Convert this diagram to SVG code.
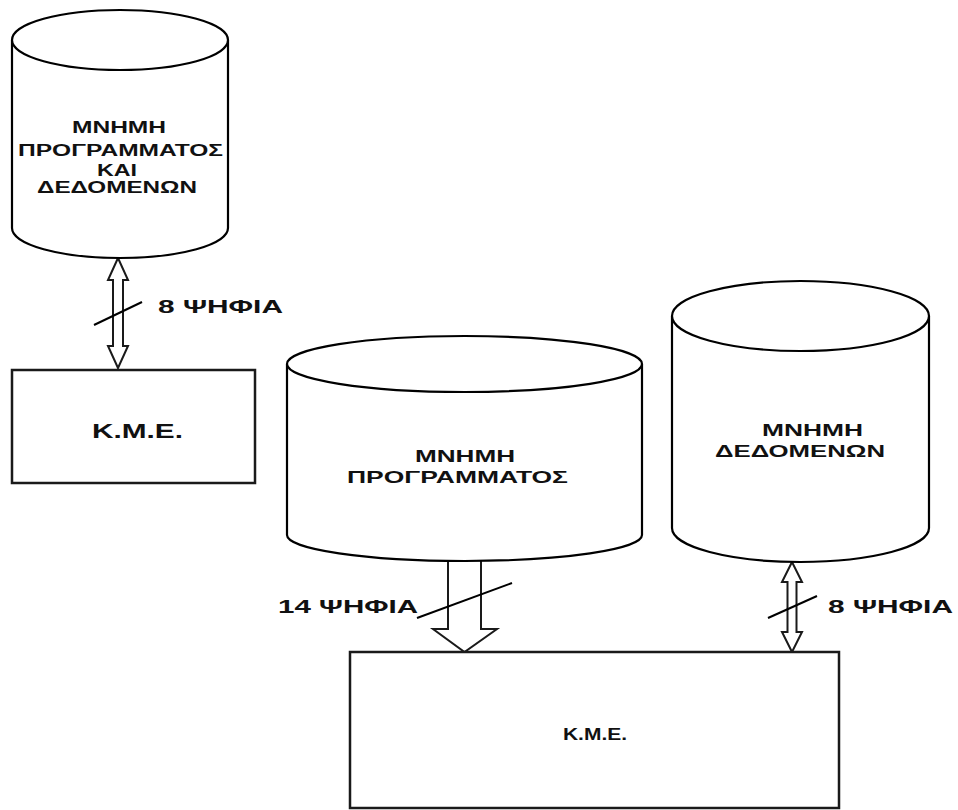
<svg xmlns="http://www.w3.org/2000/svg" width="958" height="810" viewBox="0 0 958 810">
<style>
  .shape { fill: #ffffff; stroke: #000000; stroke-width: 2.2; }
  .box { fill: #ffffff; stroke: #1a1a1a; stroke-width: 2.5; }
  .arrow { fill: #ffffff; stroke: #1a1a1a; stroke-width: 2; stroke-linejoin: miter; }
  .slash { stroke: #000000; stroke-width: 2; fill: none; }
  .t { font-family: "Liberation Sans", Arial, sans-serif; font-weight: bold; fill: #111111; }
  .t16 { font-size: 16px; }
  .t17 { font-size: 17px; }
  .t19 { font-size: 19px; }
  .t21 { font-size: 21px; }
</style>
<rect width="958" height="810" fill="#ffffff"/>

<g id="connectors">
  <!-- left bus: memory <-> CPU, 8 bits -->
  <polygon class="arrow" points="118,258 108,280 113,280 113,346 108,346 118,368 128,346 123,346 123,280 128,280"/>
  <line class="slash" x1="94" y1="325" x2="142" y2="302"/>
  <text class="t t19" x="158" y="313" textLength="125" lengthAdjust="spacingAndGlyphs">8 ΨΗΦΙΑ</text>

  <!-- program memory -> CPU, 14 bits -->
  <polygon class="arrow" points="448,552 448,629 433,629 464.5,652 497,629 481,629 481,552"/>
  <line class="slash" x1="417" y1="618" x2="512" y2="583"/>
  <text class="t t19" x="278" y="613" textLength="140" lengthAdjust="spacingAndGlyphs">14 ΨΗΦΙΑ</text>

  <!-- data memory <-> CPU, 8 bits -->
  <polygon class="arrow" points="792,562 782,582 787.5,582 787.5,632 782,632 792,652 802,632 796.5,632 796.5,582 802,582"/>
  <line class="slash" x1="768" y1="618" x2="817" y2="596"/>
  <text class="t t19" x="828" y="613" textLength="125" lengthAdjust="spacingAndGlyphs">8 ΨΗΦΙΑ</text>
</g>

<g id="mem-prog-data">
  <path class="shape" d="M12,40 L12,228 A108,30 0 0 0 228,228 L228,40"/>
  <ellipse class="shape" cx="120" cy="40" rx="108" ry="30"/>
  <text class="t t16" x="72" y="133" textLength="94" lengthAdjust="spacingAndGlyphs">ΜΝΗΜΗ</text>
  <text class="t t16" x="18" y="156" textLength="205" lengthAdjust="spacingAndGlyphs">ΠΡΟΓΡΑΜΜΑΤΟΣ</text>
  <text class="t t16" x="97" y="176" textLength="40" lengthAdjust="spacingAndGlyphs">ΚΑΙ</text>
  <text class="t t16" x="37" y="193" textLength="160" lengthAdjust="spacingAndGlyphs">ΔΕΔΟΜΕΝΩΝ</text>
</g>

<g id="cpu-left">
  <rect class="box" x="12" y="370" width="243" height="113"/>
  <text class="t t21" x="92" y="438" textLength="91" lengthAdjust="spacingAndGlyphs">Κ.Μ.Ε.</text>
</g>

<g id="mem-prog">
  <path class="shape" d="M287,364 L287,535 A177.5,26 0 0 0 642,535 L642,364"/>
  <ellipse class="shape" cx="464.5" cy="364" rx="177.5" ry="28"/>
  <text class="t t17" x="415" y="462" textLength="100" lengthAdjust="spacingAndGlyphs">ΜΝΗΜΗ</text>
  <text class="t t17" x="347" y="483" textLength="221" lengthAdjust="spacingAndGlyphs">ΠΡΟΓΡΑΜΜΑΤΟΣ</text>
</g>

<g id="mem-data">
  <path class="shape" d="M672,316 L672,528 A128.5,34 0 0 0 929,528 L929,316"/>
  <ellipse class="shape" cx="800.5" cy="316" rx="128.5" ry="35"/>
  <text class="t t17" x="762" y="436" textLength="101" lengthAdjust="spacingAndGlyphs">ΜΝΗΜΗ</text>
  <text class="t t17" x="715" y="457" textLength="170" lengthAdjust="spacingAndGlyphs">ΔΕΔΟΜΕΝΩΝ</text>
</g>

<g id="cpu-right">
  <rect class="box" x="350" y="652" width="489" height="156"/>
  <text class="t t17" x="563" y="740" textLength="64" lengthAdjust="spacingAndGlyphs">Κ.Μ.Ε.</text>
</g>
</svg>
